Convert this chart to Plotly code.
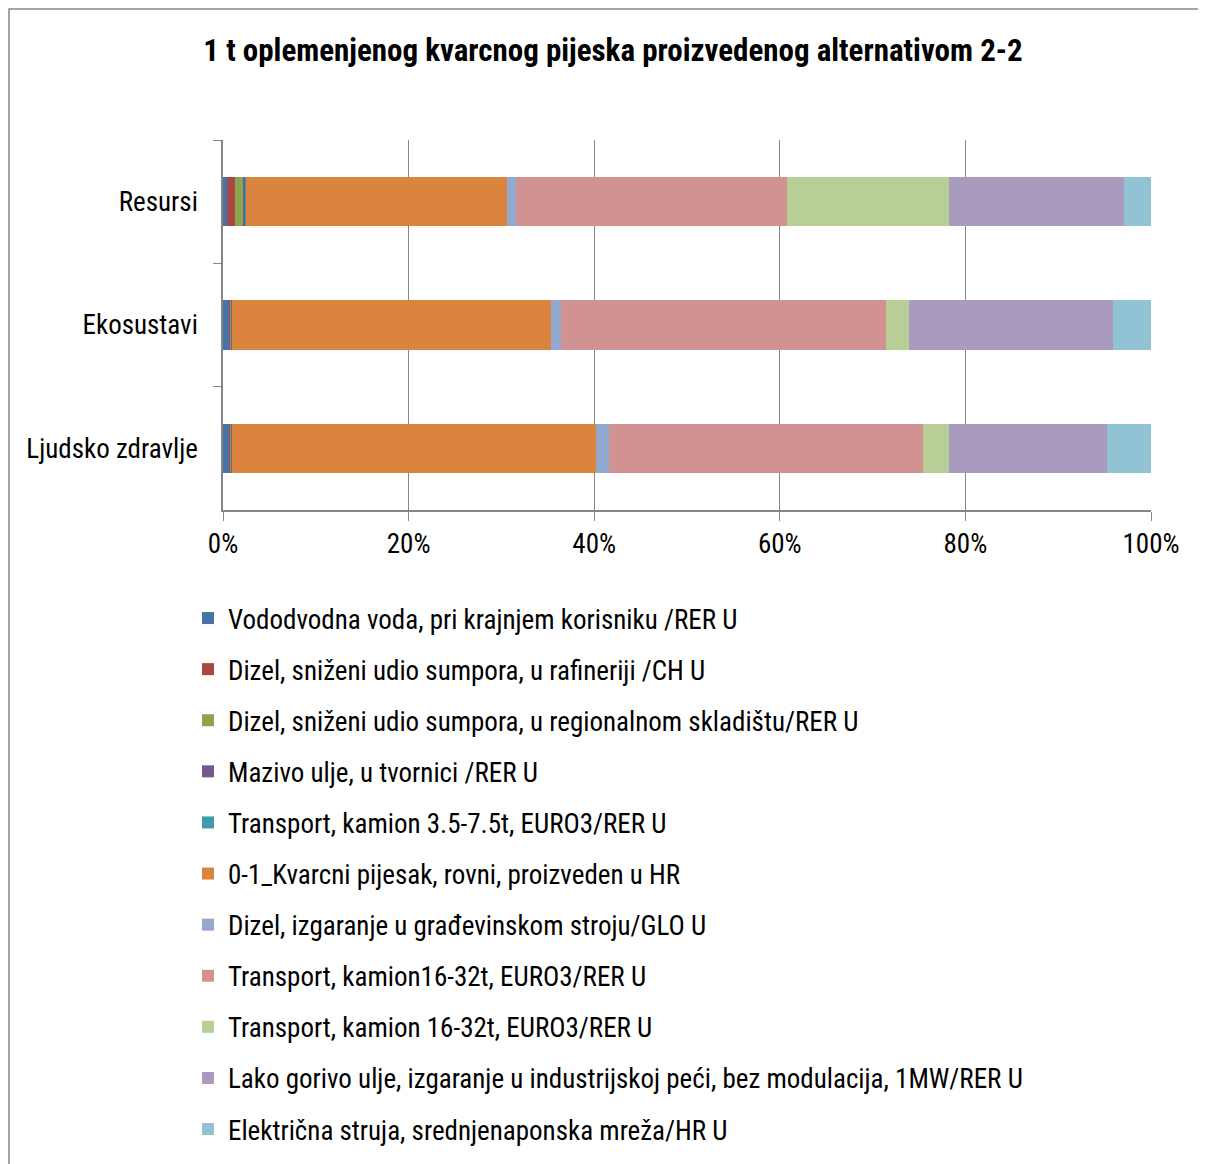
import plotly.graph_objects as go

categories = ["Resursi", "Ekosustavi", "Ljudsko zdravlje"]

series_names = [
    "Vododvodna voda, pri krajnjem korisniku /RER U",
    "Dizel, sniženi udio sumpora, u rafineriji /CH U",
    "Dizel, sniženi udio sumpora, u regionalnom skladištu/RER U",
    "Mazivo ulje, u tvornici /RER U",
    "Transport, kamion 3.5-7.5t, EURO3/RER U",
    "0-1_Kvarcni pijesak, rovni, proizveden u HR",
    "Dizel, izgaranje u građevinskom stroju/GLO U",
    "Transport, kamion16-32t, EURO3/RER U",
    "Transport, kamion 16-32t, EURO3/RER U",
    "Lako gorivo ulje, izgaranje u industrijskoj peći, bez modulacija, 1MW/RER U",
    "Električna struja, srednjenaponska mreža/HR U",
]

# values (%) per series, order: Resursi, Ekosustavi, Ljudsko zdravlje
vododvodna = [0.43, 0.65, 0.65]
dizel_rafinerija = [0.86, 0.15, 0.15]
dizel_skladiste = [0.97, 0.15, 0.15]
mazivo = [0.2, 0.05, 0.05]
kamion_35 = [0.03, 0.02, 0.02]
kvarcni_pijesak = [28.1, 34.4, 39.1]
dizel_stroj = [0.97, 1.08, 1.4]
kamion_16_a = [29.2, 35.0, 33.9]
kamion_16_b = [17.5, 2.5, 2.7]
lako_ulje = [18.9, 22.0, 17.1]
struja = [2.9, 4.1, 4.7]

series_values = [vododvodna, dizel_rafinerija, dizel_skladiste, mazivo, kamion_35,
                 kvarcni_pijesak, dizel_stroj, kamion_16_a, kamion_16_b, lako_ulje, struja]

colors = ["#4572A7", "#AA4643", "#89A54E", "#71588F", "#4198AF", "#DB843D",
          "#93A9CF", "#D19392", "#B9CD96", "#A99BBD", "#92C3D4"]

FONT = "Liberation Sans Narrow, Arial Narrow, Roboto Condensed, DejaVu Sans Condensed, sans-serif"

fig = go.Figure()
for i, (name, vals) in enumerate(zip(series_names, series_values)):
    fig.add_trace(go.Bar(
        y=categories, x=vals, name=name, orientation="h",
        marker=dict(color=colors[i], line=dict(width=0)),
        legendgroup=f"g{i}",
    ))

# page body adds an 8px offset; design in screenshot coords and shift
OFF = 8
W, H = 1206 - OFF, 1164 - OFF
L, R, T, B = 223 - OFF, 1151 - OFF, 140 - OFF, 510 - OFF
pw, ph = R - L, B - T

def px_x(s):
    return ((s - OFF) - L) / pw

def px_y(s):
    return 1 - ((s - OFF) - T) / ph

fig.update_layout(
    width=W, height=H,
    margin=dict(l=L, r=W - R, t=T, b=H - B, autoexpand=False),
    paper_bgcolor="white", plot_bgcolor="white",
    barmode="stack", barnorm="percent", bargap=0.6,
    font=dict(family=FONT, size=27, color="#000000"),
    title=dict(text="<b>1 t oplemenjenog kvarcnog pijeska proizvedenog alternativom 2-2</b>",
               x=(613 - OFF) / W, xanchor="center", y=1 - (50 - OFF) / H, yanchor="middle",
               font=dict(family=FONT, size=31, color="#000000")),
    xaxis=dict(range=[0, 100], dtick=20, ticksuffix="%", showgrid=True,
               gridcolor="#868686", gridwidth=1, showline=True, linecolor="#868686",
               linewidth=1.5, ticks="outside", ticklen=9, tickcolor="#868686",
               zeroline=False, tickfont=dict(size=27)),
    yaxis=dict(autorange="reversed", showline=True, linecolor="#868686", linewidth=1.5,
               ticks="outside", ticklen=8, tickcolor="#868686", tickson="boundaries",
               showgrid=False, tickfont=dict(size=27), ticklabelstandoff=18),
    showlegend=True,
    legend=dict(x=px_x(188), xanchor="left", y=px_y(594), yanchor="top",
                traceorder="grouped", tracegroupgap=13, font=dict(size=27),
                bgcolor="rgba(0,0,0,0)", itemsizing="constant"),
    shapes=[dict(type="rect", xref="paper", yref="paper",
                 x0=px_x(9), x1=px_x(1204), y0=px_y(1180), y1=px_y(9),
                 line=dict(color="#868686", width=1.5), fillcolor="rgba(0,0,0,0)", layer="below")],
)

fig.write_html("out.html")
